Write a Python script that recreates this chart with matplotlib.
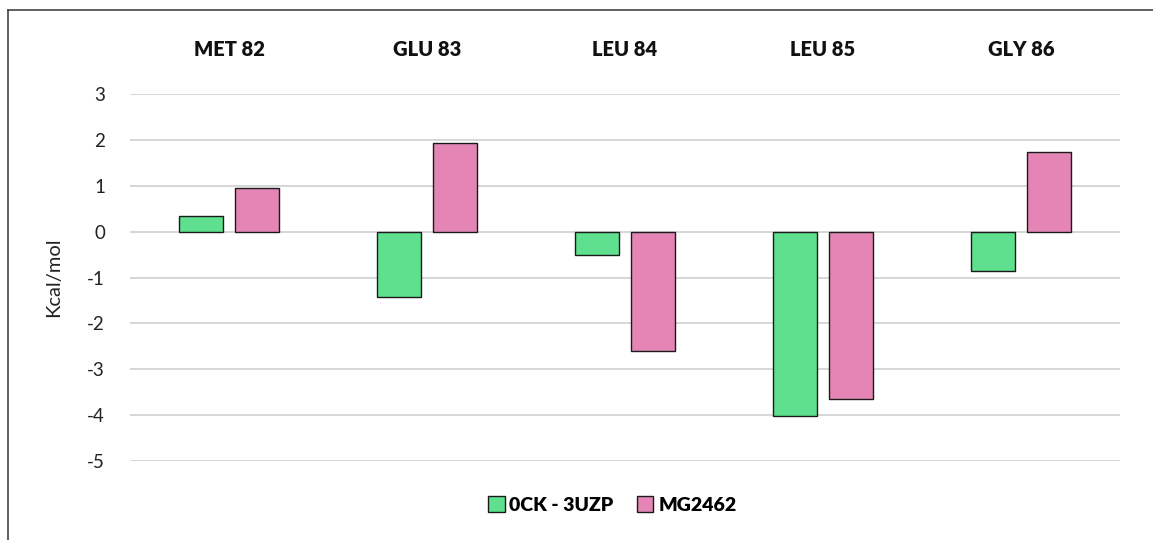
import numpy as np
import matplotlib
matplotlib.use('Agg')
from matplotlib import pyplot as plt
from matplotlib.lines import Line2D

residues = ['MET 82', 'GLU 83', 'LEU 84', 'LEU 85', 'GLY 86']
series_names = ['0CK - 3UZP', 'MG2462']
ock_3uzp = [0.33, -1.42, -0.52, -4.01, -0.85]
mg2462 = [0.95, 1.94, -2.60, -3.64, 1.74]
y_ticks = [3, 2, 1, 0, -1, -2, -3, -4, -5]

plt.rcParams['font.family'] = ['Lato', 'DejaVu Sans']

fig = plt.figure(figsize=(11.53, 5.4), dpi=100)
ax = fig.add_axes([0.1127, 0.1463, 0.8586, 0.6796])

x = np.arange(len(residues))
width = 0.222
gap = 0.06
colors = ['#5EE08F', '#E585B5']
ax.bar(x - width / 2 - gap / 2, ock_3uzp, width, color=colors[0],
       edgecolor='#1a1a1a', linewidth=1.0, zorder=3)
ax.bar(x + width / 2 + gap / 2, mg2462, width, color=colors[1],
       edgecolor='#1a1a1a', linewidth=1.0, zorder=3)

ax.set_xlim(-0.5, len(residues) - 0.5)
ax.set_ylim(-5, 3)
ax.set_yticks(y_ticks)
ax.set_yticklabels([str(t) for t in y_ticks], fontsize=13.5, color='#222222')
ax.yaxis.grid(True, color='#D0D0D0', linewidth=1.2, zorder=0)
ax.tick_params(axis='y', length=0, pad=18)

ax.xaxis.tick_top()
ax.set_xticks(x)
ax.set_xticklabels(residues, fontsize=14.5, fontweight='heavy', color='#111111')
ax.tick_params(axis='x', length=0, pad=25)

for s in ax.spines.values():
    s.set_visible(False)

ax.set_ylabel('Kcal/mol', fontsize=14.5, color='#222222', labelpad=18)

handles = [plt.Rectangle((0, 0), 1, 1, facecolor=c, edgecolor='#1a1a1a', linewidth=1.0)
           for c in colors]
fig.legend(handles, series_names, loc='center', bbox_to_anchor=(0.531, 0.065),
           ncol=2, frameon=False, handlelength=0.85, handleheight=0.85,
           handletextpad=0.25, columnspacing=1.2,
           prop={'weight': 'heavy', 'size': 14})

# outer frame (top and left edges visible in the source)
fig.add_artist(Line2D([8 / 1153, 1.0], [1 - 10 / 540, 1 - 10 / 540],
                      transform=fig.transFigure, color='#444444', linewidth=1.2))
fig.add_artist(Line2D([8 / 1153, 8 / 1153], [0, 1 - 10 / 540],
                      transform=fig.transFigure, color='#444444', linewidth=1.2))

fig.savefig('out.png', dpi=100)
